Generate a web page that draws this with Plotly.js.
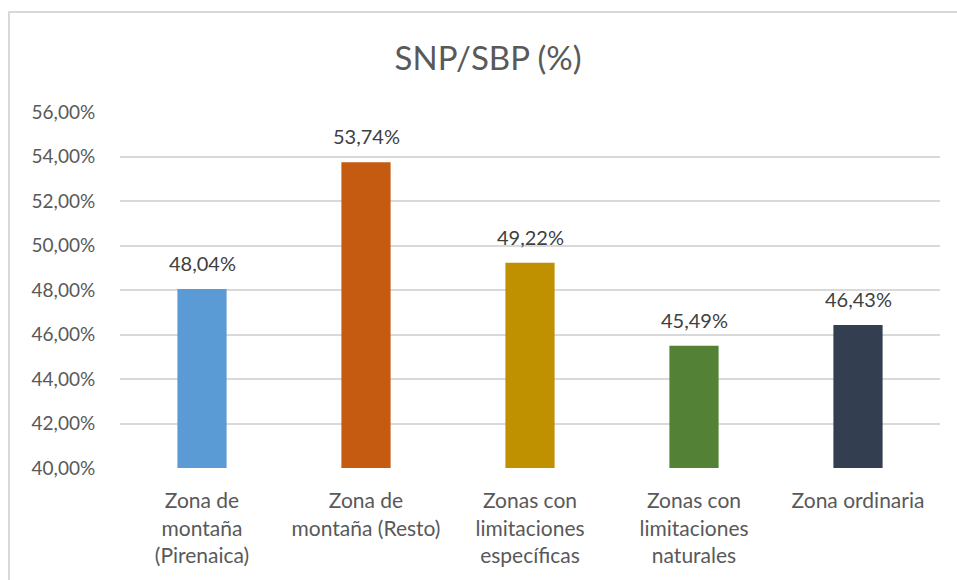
<!DOCTYPE html>
<html>
<head>
<meta charset="utf-8">
<script src="https://cdn.plot.ly/plotly-3.0.1.min.js"></script>
<style>
  html, body { margin: 0; padding: 0; background: #ffffff; }
  #wrap { position: relative; width: 957px; height: 580px; overflow: hidden; }
  #frame { position: absolute; left: 8px; top: 11px; width: 1000px; height: 1000px;
           border-left: 2px solid #d9d9d9; border-top: 2px solid #d9d9d9; box-sizing: border-box; }
  #chart { position: absolute; left: 0; top: 0; width: 957px; height: 580px; }
</style>
</head>
<body>
<div id="wrap">
  <div id="frame"></div>
  <div id="chart"></div>
</div>
<script>
const categories = [
  "Zona de<br>montaña<br>(Pirenaica)",
  "Zona de<br>montaña (Resto)",
  "Zonas con<br>limitaciones<br>específicas",
  "Zonas con<br>limitaciones<br>naturales",
  "Zona ordinaria"
];
const values = [0.4804, 0.5374, 0.4922, 0.4549, 0.4643];
const valueLabels = ["48,04%", "53,74%", "49,22%", "45,49%", "46,43%"];
const barColors = ["#5B9BD5", "#C55A11", "#BF9000", "#538135", "#333F50"];
const yTicks = [0.40, 0.42, 0.44, 0.46, 0.48, 0.50, 0.52, 0.54, 0.56];

const fontFamily = "Lato, 'Open Sans', sans-serif";

const trace = {
  type: "bar",
  x: categories,
  y: values,
  marker: { color: barColors },
  hoverinfo: "none"
};

const annotations = categories.map((c, i) => ({
  x: c,
  y: values[i],
  xref: "x",
  yref: "y",
  text: valueLabels[i],
  showarrow: false,
  yanchor: "bottom",
  yshift: 12,
  font: { family: fontFamily, size: 20, color: "#404040" }
}));

const layout = {
  width: 957,
  height: 580,
  paper_bgcolor: "rgba(0,0,0,0)",
  plot_bgcolor: "rgba(0,0,0,0)",
  separators: ",.",
  margin: { l: 120, r: 17, t: 112, b: 112 },
  bargap: 0.7,
  showlegend: false,
  annotations: annotations,
  title: {
    text: "SNP/SBP (%)",
    font: { family: fontFamily, size: 33, color: "#595959" },
    x: 0.51, xanchor: "center",
    y: 0.9, yanchor: "middle"
  },
  xaxis: {
    type: "category",
    showgrid: false,
    zeroline: false,
    showline: false,
    ticks: "outside",
    ticklen: 14,
    tickcolor: "rgba(0,0,0,0)",
    tickfont: { family: fontFamily, size: 21, color: "#595959" }
  },
  yaxis: {
    range: [0.40, 0.56],
    tickvals: yTicks,
    tickformat: ".2%",
    showgrid: true,
    gridcolor: "#d9d9d9",
    gridwidth: 2,
    zeroline: false,
    showline: false,
    ticks: "outside",
    ticklen: 20,
    tickcolor: "rgba(0,0,0,0)",
    tickfont: { family: fontFamily, size: 19, color: "#595959" }
  }
};

Plotly.newPlot("chart", [trace], layout, { displayModeBar: false, staticPlot: true });
</script>
</body>
</html>
